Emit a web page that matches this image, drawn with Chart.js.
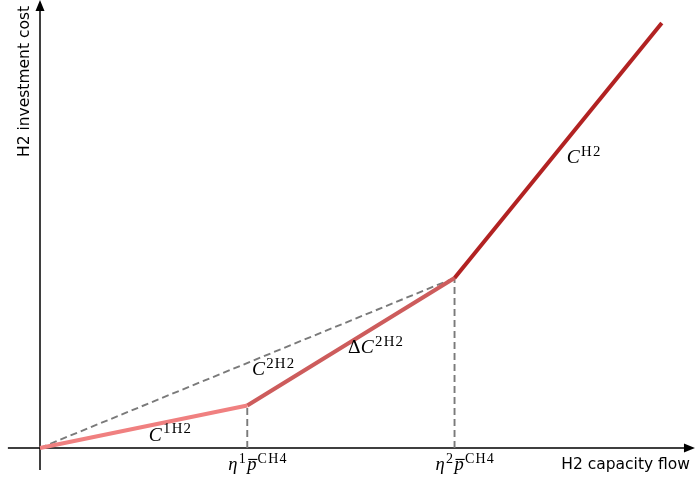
<!DOCTYPE html>
<html>
<head>
<meta charset="utf-8">
<script src="https://cdn.jsdelivr.net/npm/chart.js@4.4.1/dist/chart.umd.min.js"></script>
<style>
  body { margin: 0; background: #fff; }
  canvas { display: block; }
</style>
</head>
<body>
<canvas id="costChart" width="696" height="485"></canvas>
<script>
// break points of the piecewise cost curve (arbitrary units)
const breakX = [0, 1, 2, 3];
const costY = [0, 1, 4, 10];

const segmentColors = ['#F08080', '#CD5C5C', '#B22222'];

// math labels: i = italic, s = superscript, bar = overline
const segmentLabels = [
  [{ t: 'C', i: true }, { t: '1H2', s: true }],
  [{ t: 'Δ' }, { t: 'C', i: true }, { t: '2H2', s: true }],
  [{ t: 'C', i: true }, { t: 'H2', s: true }]
];
const chordLabel = [{ t: 'C', i: true }, { t: '2H2', s: true }];
const tickLabels = [
  [{ t: 'η', i: true }, { t: '1', s: true }, { t: 'p', i: true, bar: true }, { t: 'CH4', s: true }],
  [{ t: 'η', i: true }, { t: '2', s: true }, { t: 'p', i: true, bar: true }, { t: 'CH4', s: true }]
];
const xAxisTitle = 'H2 capacity flow';
const yAxisTitle = 'H2 investment cost';

const pt = (k) => ({ x: breakX[k], y: costY[k] });

const datasets = [];
for (let k = 0; k < 3; k++) {
  datasets.push({
    data: [pt(k), pt(k + 1)],
    borderColor: segmentColors[k],
    borderWidth: 4,
    showLine: true,
    pointRadius: 0,
    order: 0
  });
}
const dashStyle = { borderColor: '#7a7a7a', borderWidth: 1.9, borderDash: [7, 4], showLine: true, pointRadius: 0, order: 1 };
datasets.push({ ...dashStyle, data: [pt(0), pt(2)] });
datasets.push({ ...dashStyle, data: [{ x: breakX[1], y: 0 }, pt(1)] });
datasets.push({ ...dashStyle, data: [{ x: breakX[2], y: 0 }, pt(2)] });

function drawMath(ctx, x, y, parts, size) {
  let cx = x;
  ctx.textAlign = 'left';
  ctx.textBaseline = 'alphabetic';
  for (const p of parts) {
    const fs = p.s ? size * 0.76 : size;
    ctx.font = (p.i ? 'italic ' : '') + fs + 'px "Liberation Serif"';
    ctx.letterSpacing = p.s ? '1.2px' : '0px';
    const dy = p.s ? -size * 0.38 : 0;
    ctx.fillText(p.t, cx, y + dy);
    const w = ctx.measureText(p.t).width;
    if (p.bar) {
      ctx.fillRect(cx + 1, y - size * 0.6, w, 1.1);
    }
    cx += w + (p.i ? 1.2 : 0.3);
  }
  ctx.letterSpacing = '0px';
}

const annotate = {
  id: 'annotate',
  beforeDatasetsDraw(chart) {
    const { ctx, scales: { x, y } } = chart;
    const ox = x.getPixelForValue(0), oy = y.getPixelForValue(0);
    const xEnd = x.getPixelForValue(3.16), yTop = y.getPixelForValue(10.54);
    ctx.save();
    ctx.strokeStyle = '#000';
    ctx.fillStyle = '#000';
    ctx.lineWidth = 1.5;
    ctx.beginPath();
    ctx.moveTo(x.getPixelForValue(-0.155), oy);
    ctx.lineTo(xEnd - 8, oy);
    ctx.moveTo(ox, y.getPixelForValue(-0.52));
    ctx.lineTo(ox, yTop + 8);
    ctx.stroke();
    // arrow heads
    ctx.beginPath();
    ctx.moveTo(xEnd, oy);
    ctx.lineTo(xEnd - 11, oy - 4.5);
    ctx.lineTo(xEnd - 11, oy + 4.5);
    ctx.closePath();
    ctx.moveTo(ox, yTop);
    ctx.lineTo(ox - 4.5, yTop + 11);
    ctx.lineTo(ox + 4.5, yTop + 11);
    ctx.closePath();
    ctx.fill();
    ctx.restore();
  },
  afterDatasetsDraw(chart) {
    const { ctx, scales: { x, y } } = chart;
    ctx.save();
    ctx.fillStyle = '#000';
    const P = (vx, vy) => [x.getPixelForValue(vx), y.getPixelForValue(vy)];
    let p;
    p = P(0.525, 0.17); drawMath(ctx, p[0], p[1], segmentLabels[0], 19.5);
    p = P(1.486, 2.235); drawMath(ctx, p[0], p[1], segmentLabels[1], 19.5);
    p = P(2.542, 6.706); drawMath(ctx, p[0], p[1], segmentLabels[2], 19.5);
    p = P(1.023, 1.718); drawMath(ctx, p[0], p[1], chordLabel, 19.5);
    for (let k = 0; k < tickLabels.length; k++) {
      p = P(breakX[k + 1], 0);
      drawMath(ctx, p[0] - 19, p[1] + 22, tickLabels[k], 18.5);
    }
    // axis titles
    ctx.font = '15.5px "DejaVu Sans"';
    ctx.textAlign = 'right';
    ctx.textBaseline = 'alphabetic';
    ctx.fillText(xAxisTitle, 690, 469);
    ctx.translate(29, 157);
    ctx.rotate(-Math.PI / 2);
    ctx.textAlign = 'left';
    ctx.fillText(yAxisTitle, 0, 0);
    ctx.restore();
  }
};

new Chart(document.getElementById('costChart').getContext('2d'), {
  type: 'scatter',
  data: { datasets: datasets },
  options: {
    responsive: false,
    animation: false,
    layout: { padding: 0 },
    plugins: { legend: { display: false }, tooltip: { enabled: false } },
    scales: {
      x: { type: 'linear', display: false, min: -0.193, max: 3.165 },
      y: { type: 'linear', display: false, min: -0.871, max: 10.541 }
    }
  },
  plugins: [annotate]
});
</script>
</body>
</html>
